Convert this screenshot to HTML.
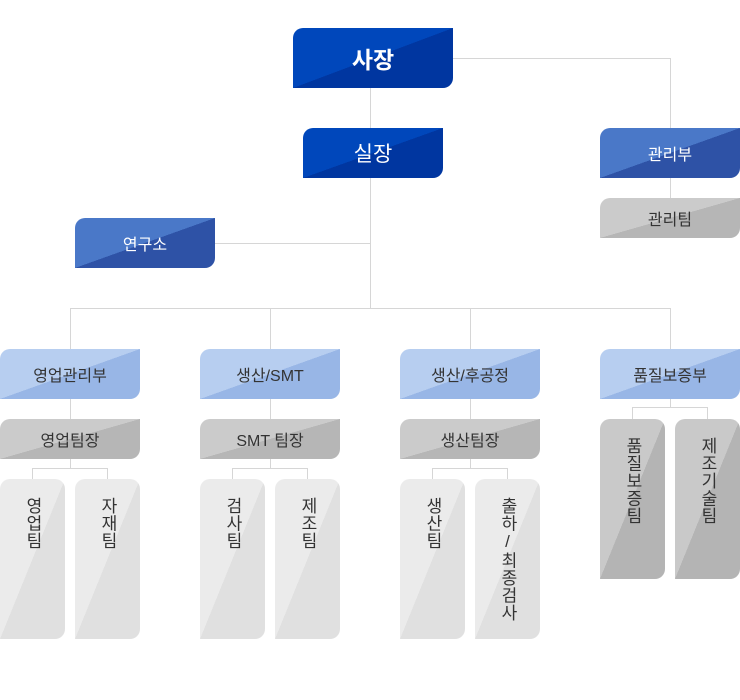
<!DOCTYPE html>
<html><head><meta charset="utf-8"><style>
body{margin:0;width:740px;height:700px;background:#fff;position:relative;overflow:hidden;font-family:"Liberation Sans","Noto Sans CJK KR",sans-serif}
.b{position:absolute;display:flex;align-items:center;justify-content:center;border-radius:10px 0 10px 0;box-sizing:border-box}
.l{position:absolute;background:#d6d6d6}
.top{background:linear-gradient(to top left,#0036a0 50%,#0047bb 50%);color:#fff;font-weight:bold}
.mid{background:linear-gradient(to top left,#2e52a6 50%,#4a78c8 50%);color:#fff;font-size:16px}
.lb{background:linear-gradient(to top left,#98b6e6 50%,#b7cef0 50%);color:#333;font-size:16px}
.gr{background:linear-gradient(to top left,#b6b6b6 50%,#cbcbcb 50%);color:#333;font-size:16px}
.lf{background:linear-gradient(to top left,#e0e0e0 50%,#ebebeb 50%);color:#333;font-size:17px;border-radius:10px 10px 10px 0;align-items:flex-start;padding-top:18px}
.lq{background:linear-gradient(to top left,#b4b4b4 50%,#c9c9c9 50%);color:#333;font-size:17px;border-radius:10px 10px 10px 0;align-items:flex-start;padding-top:18px}
.v{writing-mode:vertical-rl;text-orientation:upright;line-height:1;letter-spacing:0.5px}
</style></head><body>
<div class="l" style="left:453px;top:58px;width:218px;height:1px"></div>
<div class="l" style="left:670px;top:58px;width:1px;height:70px"></div>
<div class="l" style="left:670px;top:178px;width:1px;height:20px"></div>
<div class="l" style="left:370px;top:88px;width:1px;height:40px"></div>
<div class="l" style="left:370px;top:178px;width:1px;height:130px"></div>
<div class="l" style="left:215px;top:243px;width:155px;height:1px"></div>
<div class="l" style="left:70px;top:308px;width:601px;height:1px"></div>
<div class="l" style="left:70px;top:308px;width:1px;height:41px"></div>
<div class="l" style="left:270px;top:308px;width:1px;height:41px"></div>
<div class="l" style="left:470px;top:308px;width:1px;height:41px"></div>
<div class="l" style="left:670px;top:308px;width:1px;height:41px"></div>
<div class="l" style="left:70px;top:399px;width:1px;height:69px"></div>
<div class="l" style="left:270px;top:399px;width:1px;height:69px"></div>
<div class="l" style="left:470px;top:399px;width:1px;height:69px"></div>
<div class="l" style="left:670px;top:399px;width:1px;height:8px"></div>
<div class="l" style="left:32px;top:468px;width:76px;height:1px"></div>
<div class="l" style="left:32px;top:468px;width:1px;height:11px"></div>
<div class="l" style="left:107px;top:468px;width:1px;height:11px"></div>
<div class="l" style="left:232px;top:468px;width:76px;height:1px"></div>
<div class="l" style="left:232px;top:468px;width:1px;height:11px"></div>
<div class="l" style="left:307px;top:468px;width:1px;height:11px"></div>
<div class="l" style="left:432px;top:468px;width:76px;height:1px"></div>
<div class="l" style="left:432px;top:468px;width:1px;height:11px"></div>
<div class="l" style="left:507px;top:468px;width:1px;height:11px"></div>
<div class="l" style="left:632px;top:407px;width:76px;height:1px"></div>
<div class="l" style="left:632px;top:407px;width:1px;height:12px"></div>
<div class="l" style="left:707px;top:407px;width:1px;height:12px"></div>
<div class="b top" style="left:293px;top:28px;width:160px;height:60px;font-size:23px">사장</div>
<div class="b top" style="left:303px;top:128px;width:140px;height:50px;font-size:21px;font-weight:normal">실장</div>
<div class="b mid" style="left:600px;top:128px;width:140px;height:50px">관리부</div>
<div class="b gr" style="left:600px;top:198px;width:140px;height:40px">관리팀</div>
<div class="b mid" style="left:75px;top:218px;width:140px;height:50px">연구소</div>
<div class="b lb" style="left:0;top:349px;width:140px;height:50px">영업관리부</div>
<div class="b lb" style="left:200px;top:349px;width:140px;height:50px">생산/SMT</div>
<div class="b lb" style="left:400px;top:349px;width:140px;height:50px">생산/후공정</div>
<div class="b lb" style="left:600px;top:349px;width:140px;height:50px">품질보증부</div>
<div class="b gr" style="left:0;top:419px;width:140px;height:40px">영업팀장</div>
<div class="b gr" style="left:200px;top:419px;width:140px;height:40px">SMT 팀장</div>
<div class="b gr" style="left:400px;top:419px;width:140px;height:40px">생산팀장</div>
<div class="b lf" style="left:0;top:479px;width:65px;height:160px"><span class="v">영업팀</span></div>
<div class="b lf" style="left:75px;top:479px;width:65px;height:160px"><span class="v">자재팀</span></div>
<div class="b lf" style="left:200px;top:479px;width:65px;height:160px"><span class="v">검사팀</span></div>
<div class="b lf" style="left:275px;top:479px;width:65px;height:160px"><span class="v">제조팀</span></div>
<div class="b lf" style="left:400px;top:479px;width:65px;height:160px"><span class="v">생산팀</span></div>
<div class="b lf" style="left:475px;top:479px;width:65px;height:160px"><span class="v">출하/최종검사</span></div>
<div class="b lq" style="left:600px;top:419px;width:65px;height:160px"><span class="v">품질보증팀</span></div>
<div class="b lq" style="left:675px;top:419px;width:65px;height:160px"><span class="v">제조기술팀</span></div>
</body></html>
